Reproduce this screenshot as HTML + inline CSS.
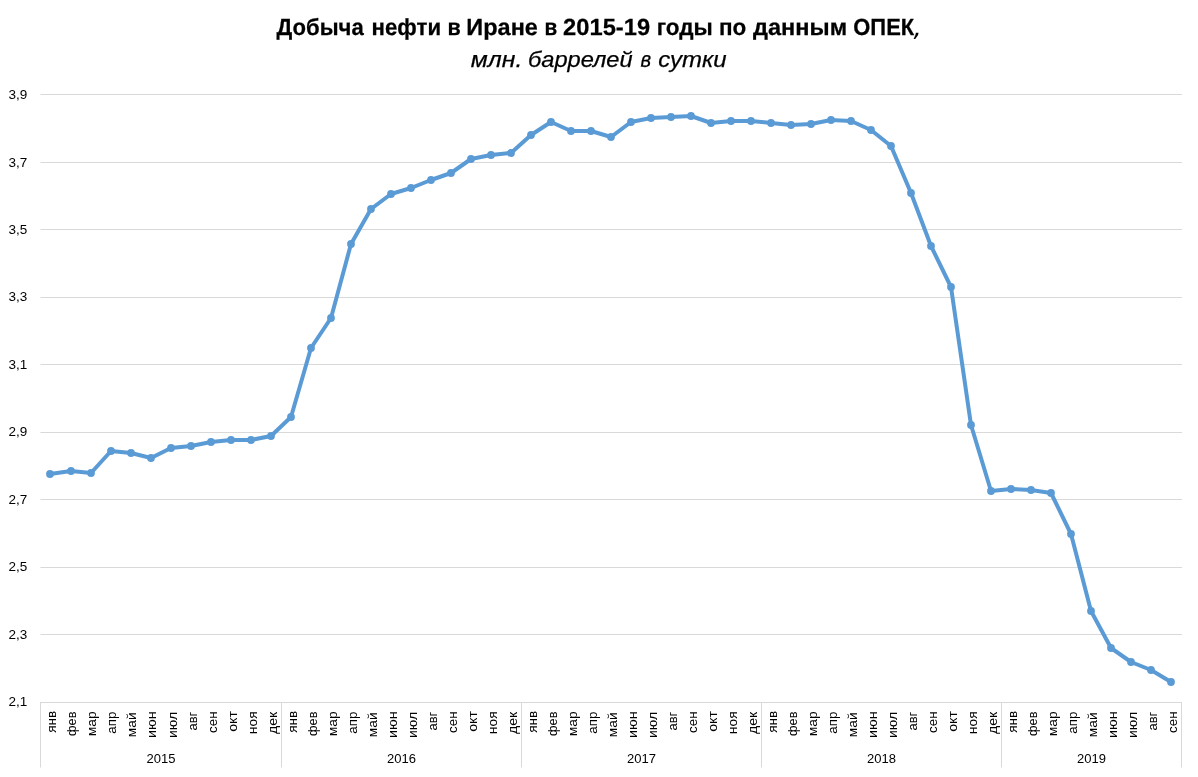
<!DOCTYPE html>
<html lang="ru">
<head>
<meta charset="utf-8">
<title>Добыча нефти в Иране в 2015-19 годы по данным ОПЕК</title>
<style>
html,body{margin:0;padding:0;background:#fff;}
body{width:1198px;height:777px;overflow:hidden;font-family:"Liberation Sans",sans-serif;}
svg{display:block;}
text{font-family:"Liberation Sans",sans-serif;fill:#000;}
.t1{font-size:23.3px;font-weight:bold;text-rendering:geometricPrecision;stroke:#000;stroke-width:0.25px;}
.t2{font-size:22px;font-style:italic;stroke:#000;stroke-width:0.25px;}
.tc{font-family:"DejaVu Sans","Liberation Sans",sans-serif;font-size:26px;font-style:italic;font-weight:normal;stroke:none;}
.yl,.ml,.yr{font-size:13px;}
</style>
</head>
<body>
<svg width="1198" height="777" viewBox="0 0 1198 777" role="img" aria-label="Добыча нефти в Иране в 2015-19 годы по данным ОПЕК, млн. баррелей в сутки">
<rect x="0" y="0" width="1198" height="777" fill="#ffffff"/>

<g fill="#d9d9d9" shape-rendering="crispEdges">
<rect x="41" y="94" width="1141" height="1"/>
<rect x="40" y="94" width="1" height="1" fill="#ececec"/>
<rect x="41" y="162" width="1141" height="1"/>
<rect x="40" y="162" width="1" height="1" fill="#ececec"/>
<rect x="41" y="229" width="1141" height="1"/>
<rect x="40" y="229" width="1" height="1" fill="#ececec"/>
<rect x="41" y="297" width="1141" height="1"/>
<rect x="40" y="297" width="1" height="1" fill="#ececec"/>
<rect x="41" y="364" width="1141" height="1"/>
<rect x="40" y="364" width="1" height="1" fill="#ececec"/>
<rect x="41" y="432" width="1141" height="1"/>
<rect x="40" y="432" width="1" height="1" fill="#ececec"/>
<rect x="41" y="499" width="1141" height="1"/>
<rect x="40" y="499" width="1" height="1" fill="#ececec"/>
<rect x="41" y="567" width="1141" height="1"/>
<rect x="40" y="567" width="1" height="1" fill="#ececec"/>
<rect x="41" y="634" width="1141" height="1"/>
<rect x="40" y="634" width="1" height="1" fill="#ececec"/>
<rect x="40" y="702" width="1142" height="1"/>
<rect x="40" y="702" width="1" height="65"/>
<rect x="40" y="767" width="1" height="1" fill="#ececec"/>
<rect x="281" y="702" width="1" height="65"/>
<rect x="281" y="767" width="1" height="1" fill="#ececec"/>
<rect x="521" y="702" width="1" height="65"/>
<rect x="521" y="767" width="1" height="1" fill="#ececec"/>
<rect x="761" y="702" width="1" height="65"/>
<rect x="761" y="767" width="1" height="1" fill="#ececec"/>
<rect x="1001" y="702" width="1" height="65"/>
<rect x="1001" y="767" width="1" height="1" fill="#ececec"/>
<rect x="1181" y="702" width="1" height="65"/>
<rect x="1181" y="767" width="1" height="1" fill="#ececec"/>
</g>
<text class="t1" y="35"><tspan x="276.54" textLength="87.15" lengthAdjust="spacingAndGlyphs">Добыча</tspan> <tspan x="371.60" textLength="69.47" lengthAdjust="spacingAndGlyphs">нефти</tspan> <tspan x="447.54" textLength="13.26" lengthAdjust="spacingAndGlyphs">в</tspan> <tspan x="466.39" textLength="71.51" lengthAdjust="spacingAndGlyphs">Иране</tspan> <tspan x="544.50" textLength="12.77" lengthAdjust="spacingAndGlyphs">в</tspan> <tspan x="563.12" textLength="86.95" lengthAdjust="spacingAndGlyphs">2015-19</tspan> <tspan x="656.68" textLength="56.01" lengthAdjust="spacingAndGlyphs">годы</tspan> <tspan x="718.98" textLength="27.32" lengthAdjust="spacingAndGlyphs">по</tspan> <tspan x="752.97" textLength="94.12" lengthAdjust="spacingAndGlyphs">данным</tspan> <tspan x="853.30" textLength="60.89" lengthAdjust="spacingAndGlyphs">ОПЕК</tspan><tspan class="tc" x="913.5" dy="1">,</tspan></text>
<text class="t2" y="67"><tspan x="470.77" textLength="51.53" lengthAdjust="spacingAndGlyphs">млн.</tspan> <tspan x="527.94" textLength="104.72" lengthAdjust="spacingAndGlyphs">баррелей</tspan> <tspan x="640.62" textLength="10.67" lengthAdjust="spacingAndGlyphs">в</tspan> <tspan x="658.38" textLength="68.26" lengthAdjust="spacingAndGlyphs">сутки</tspan></text>
<g class="yl">
<text transform="translate(8.55,99) scale(1.04,1)">3,9</text>
<text transform="translate(8.55,167) scale(1.04,1)">3,7</text>
<text transform="translate(8.55,234) scale(1.04,1)">3,5</text>
<text transform="translate(8.55,301) scale(1.04,1)">3,3</text>
<text transform="translate(8.55,369) scale(1.04,1)">3,1</text>
<text transform="translate(8.55,436) scale(1.04,1)">2,9</text>
<text transform="translate(8.55,504) scale(1.04,1)">2,7</text>
<text transform="translate(8.55,571) scale(1.04,1)">2,5</text>
<text transform="translate(8.55,639) scale(1.04,1)">2,3</text>
<text transform="translate(8.55,706) scale(1.04,1)">2,1</text>
</g>
<g class="ml">
<text transform="translate(56.40,732.79) rotate(-90) scale(1.0416,1)">янв</text>
<text transform="translate(76.42,735.89) rotate(-90) scale(0.9829,1)">фев</text>
<text transform="translate(96.44,736.20) rotate(-90) scale(1.0639,1)">мар</text>
<text transform="translate(116.45,733.71) rotate(-90) scale(1.0267,1)">апр</text>
<text transform="translate(136.47,737.23) rotate(-90) scale(1.0595,1)">май</text>
<text transform="translate(156.49,738.04) rotate(-90) scale(1.1033,1)">июн</text>
<text transform="translate(176.50,738.02) rotate(-90) scale(1.0775,1)">июл</text>
<text transform="translate(196.52,730.60) rotate(-90) scale(1.0028,1)">авг</text>
<text transform="translate(216.54,732.91) rotate(-90) scale(1.0275,1)">сен</text>
<text transform="translate(236.56,731.81) rotate(-90) scale(1.0904,1)">окт</text>
<text transform="translate(256.57,734.14) rotate(-90) scale(1.0608,1)">ноя</text>
<text transform="translate(276.59,734.01) rotate(-90) scale(1.0776,1)">дек</text>
<text transform="translate(296.61,732.79) rotate(-90) scale(1.0416,1)">янв</text>
<text transform="translate(316.63,735.89) rotate(-90) scale(0.9829,1)">фев</text>
<text transform="translate(336.64,736.20) rotate(-90) scale(1.0639,1)">мар</text>
<text transform="translate(356.66,733.71) rotate(-90) scale(1.0267,1)">апр</text>
<text transform="translate(376.68,737.23) rotate(-90) scale(1.0595,1)">май</text>
<text transform="translate(396.70,738.04) rotate(-90) scale(1.1033,1)">июн</text>
<text transform="translate(416.71,738.02) rotate(-90) scale(1.0775,1)">июл</text>
<text transform="translate(436.73,730.60) rotate(-90) scale(1.0028,1)">авг</text>
<text transform="translate(456.75,732.91) rotate(-90) scale(1.0275,1)">сен</text>
<text transform="translate(476.77,731.81) rotate(-90) scale(1.0904,1)">окт</text>
<text transform="translate(496.78,734.14) rotate(-90) scale(1.0608,1)">ноя</text>
<text transform="translate(516.80,734.01) rotate(-90) scale(1.0776,1)">дек</text>
<text transform="translate(536.82,732.79) rotate(-90) scale(1.0416,1)">янв</text>
<text transform="translate(556.84,735.89) rotate(-90) scale(0.9829,1)">фев</text>
<text transform="translate(576.85,736.20) rotate(-90) scale(1.0639,1)">мар</text>
<text transform="translate(596.87,733.71) rotate(-90) scale(1.0267,1)">апр</text>
<text transform="translate(616.89,737.23) rotate(-90) scale(1.0595,1)">май</text>
<text transform="translate(636.91,738.04) rotate(-90) scale(1.1033,1)">июн</text>
<text transform="translate(656.92,738.02) rotate(-90) scale(1.0775,1)">июл</text>
<text transform="translate(676.94,730.60) rotate(-90) scale(1.0028,1)">авг</text>
<text transform="translate(696.96,732.91) rotate(-90) scale(1.0275,1)">сен</text>
<text transform="translate(716.98,731.81) rotate(-90) scale(1.0904,1)">окт</text>
<text transform="translate(736.99,734.14) rotate(-90) scale(1.0608,1)">ноя</text>
<text transform="translate(757.01,734.01) rotate(-90) scale(1.0776,1)">дек</text>
<text transform="translate(777.03,732.79) rotate(-90) scale(1.0416,1)">янв</text>
<text transform="translate(797.05,735.89) rotate(-90) scale(0.9829,1)">фев</text>
<text transform="translate(817.06,736.20) rotate(-90) scale(1.0639,1)">мар</text>
<text transform="translate(837.08,733.71) rotate(-90) scale(1.0267,1)">апр</text>
<text transform="translate(857.10,737.23) rotate(-90) scale(1.0595,1)">май</text>
<text transform="translate(877.12,738.04) rotate(-90) scale(1.1033,1)">июн</text>
<text transform="translate(897.13,738.02) rotate(-90) scale(1.0775,1)">июл</text>
<text transform="translate(917.15,730.60) rotate(-90) scale(1.0028,1)">авг</text>
<text transform="translate(937.17,732.91) rotate(-90) scale(1.0275,1)">сен</text>
<text transform="translate(957.19,731.81) rotate(-90) scale(1.0904,1)">окт</text>
<text transform="translate(977.20,734.14) rotate(-90) scale(1.0608,1)">ноя</text>
<text transform="translate(997.22,734.01) rotate(-90) scale(1.0776,1)">дек</text>
<text transform="translate(1017.24,732.79) rotate(-90) scale(1.0416,1)">янв</text>
<text transform="translate(1037.26,735.89) rotate(-90) scale(0.9829,1)">фев</text>
<text transform="translate(1057.27,736.20) rotate(-90) scale(1.0639,1)">мар</text>
<text transform="translate(1077.29,733.71) rotate(-90) scale(1.0267,1)">апр</text>
<text transform="translate(1097.31,737.23) rotate(-90) scale(1.0595,1)">май</text>
<text transform="translate(1117.33,738.04) rotate(-90) scale(1.1033,1)">июн</text>
<text transform="translate(1137.35,738.02) rotate(-90) scale(1.0775,1)">июл</text>
<text transform="translate(1157.36,730.60) rotate(-90) scale(1.0028,1)">авг</text>
<text transform="translate(1177.38,732.91) rotate(-90) scale(1.0275,1)">сен</text>
</g>
<g class="yr" text-anchor="middle">
<text x="161.00" y="763">2015</text>
<text x="401.50" y="763">2016</text>
<text x="641.50" y="763">2017</text>
<text x="881.50" y="763">2018</text>
<text x="1091.50" y="763">2019</text>
</g>
<path d="M50 474 L71 471 L91 473 L111 451 L131 453 L151 458 L171 448 L191 446 L211 442 L231 440 L251 440 L271 436 L291 417 L311 348 L331 318 L351 244 L371 209 L391 194 L411 188 L431 180 L451 173 L471 159 L491 155 L511 153 L531 135 L551 122 L571 131 L591 131 L611 137 L631 122 L651 118 L671 117 L691 116 L711 123 L731 121 L751 121 L771 123 L791 125 L811 124 L831 120 L851 121 L871 130 L891 146 L911 193 L931 246 L951 287 L971 425 L991 491 L1011 489 L1031 490 L1051 493 L1071 534 L1091 611 L1111 648 L1131 662 L1151 670 L1171 682" fill="none" stroke="#5b9bd5" stroke-width="4" stroke-linejoin="round" stroke-linecap="round"/>
<g fill="#5b9bd5">
<circle cx="50" cy="474" r="3.9"/>
<circle cx="71" cy="471" r="3.9"/>
<circle cx="91" cy="473" r="3.9"/>
<circle cx="111" cy="451" r="3.9"/>
<circle cx="131" cy="453" r="3.9"/>
<circle cx="151" cy="458" r="3.9"/>
<circle cx="171" cy="448" r="3.9"/>
<circle cx="191" cy="446" r="3.9"/>
<circle cx="211" cy="442" r="3.9"/>
<circle cx="231" cy="440" r="3.9"/>
<circle cx="251" cy="440" r="3.9"/>
<circle cx="271" cy="436" r="3.9"/>
<circle cx="291" cy="417" r="3.9"/>
<circle cx="311" cy="348" r="3.9"/>
<circle cx="331" cy="318" r="3.9"/>
<circle cx="351" cy="244" r="3.9"/>
<circle cx="371" cy="209" r="3.9"/>
<circle cx="391" cy="194" r="3.9"/>
<circle cx="411" cy="188" r="3.9"/>
<circle cx="431" cy="180" r="3.9"/>
<circle cx="451" cy="173" r="3.9"/>
<circle cx="471" cy="159" r="3.9"/>
<circle cx="491" cy="155" r="3.9"/>
<circle cx="511" cy="153" r="3.9"/>
<circle cx="531" cy="135" r="3.9"/>
<circle cx="551" cy="122" r="3.9"/>
<circle cx="571" cy="131" r="3.9"/>
<circle cx="591" cy="131" r="3.9"/>
<circle cx="611" cy="137" r="3.9"/>
<circle cx="631" cy="122" r="3.9"/>
<circle cx="651" cy="118" r="3.9"/>
<circle cx="671" cy="117" r="3.9"/>
<circle cx="691" cy="116" r="3.9"/>
<circle cx="711" cy="123" r="3.9"/>
<circle cx="731" cy="121" r="3.9"/>
<circle cx="751" cy="121" r="3.9"/>
<circle cx="771" cy="123" r="3.9"/>
<circle cx="791" cy="125" r="3.9"/>
<circle cx="811" cy="124" r="3.9"/>
<circle cx="831" cy="120" r="3.9"/>
<circle cx="851" cy="121" r="3.9"/>
<circle cx="871" cy="130" r="3.9"/>
<circle cx="891" cy="146" r="3.9"/>
<circle cx="911" cy="193" r="3.9"/>
<circle cx="931" cy="246" r="3.9"/>
<circle cx="951" cy="287" r="3.9"/>
<circle cx="971" cy="425" r="3.9"/>
<circle cx="991" cy="491" r="3.9"/>
<circle cx="1011" cy="489" r="3.9"/>
<circle cx="1031" cy="490" r="3.9"/>
<circle cx="1051" cy="493" r="3.9"/>
<circle cx="1071" cy="534" r="3.9"/>
<circle cx="1091" cy="611" r="3.9"/>
<circle cx="1111" cy="648" r="3.9"/>
<circle cx="1131" cy="662" r="3.9"/>
<circle cx="1151" cy="670" r="3.9"/>
<circle cx="1171" cy="682" r="3.9"/>
</g>
</svg>
</body>
</html>
